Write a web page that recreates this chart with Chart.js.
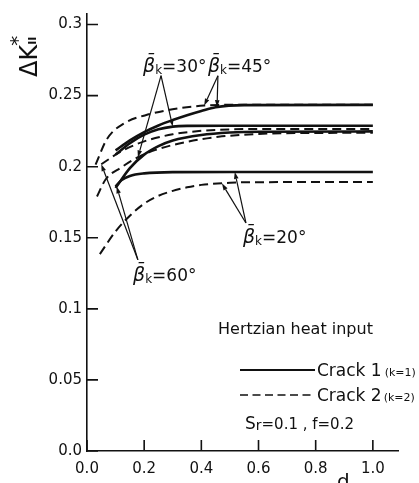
<!DOCTYPE html>
<html>
<head>
<meta charset="utf-8">
<script src="https://cdn.jsdelivr.net/npm/chart.js@4.4.1/dist/chart.umd.min.js"></script>
<style>
  html, body { margin: 0; padding: 0; background: #fff; }
</style>
</head>
<body>
<canvas id="chart" width="419" height="483"></canvas>
<script>
// ΔK*II against crack depth d, Hertzian heat input, Sr=0.1, f=0.2

const xTicks = [0, 0.2, 0.4, 0.6, 0.8, 1.0];
const xTickLabels = ['0.0', '0.2', '0.4', '0.6', '0.8', '1.0'];
const yTicks = [0, 0.05, 0.1, 0.15, 0.2, 0.25, 0.3];
const yTickLabels = ['0.0', '0.05', '0.1', '0.15', '0.2', '0.25', '0.3'];

// Crack 1 (k=1) - solid
const dS20 = [0.10, 0.12, 0.15, 0.20, 0.30, 0.50, 1.00];
const kS20 = [0.186, 0.1905, 0.1935, 0.1953, 0.1962, 0.1963, 0.1963];
const dS30 = [0.10, 0.15, 0.20, 0.25, 0.30, 0.35, 0.50, 1.00];
const kS30 = [0.2085, 0.2165, 0.2225, 0.2263, 0.2282, 0.2287, 0.2288, 0.2288];
const dS45 = [0.10, 0.15, 0.20, 0.25, 0.30, 0.35, 0.40, 0.45, 0.55, 1.00];
const kS45 = [0.2115, 0.2185, 0.2243, 0.229, 0.2328, 0.2362, 0.2392, 0.2418, 0.2433, 0.2435];
const dS60 = [0.10, 0.15, 0.20, 0.25, 0.30, 0.40, 0.50, 0.60, 1.00];
const kS60 = [0.185, 0.199, 0.2085, 0.2145, 0.2185, 0.2223, 0.2240, 0.2246, 0.2248];

// Crack 2 (k=2) - dashed
const dD20 = [0.045, 0.10, 0.15, 0.20, 0.25, 0.30, 0.35, 0.40, 0.50, 0.60, 1.00];
const kD20 = [0.1385, 0.1545, 0.1655, 0.1740, 0.1795, 0.1830, 0.1855, 0.1872, 0.1887, 0.1891, 0.1892];
const dD30 = [0.035, 0.065, 0.12, 0.18, 0.24, 0.35, 0.46, 0.60, 0.75, 1.00];
const kD30 = [0.179, 0.191, 0.1995, 0.2068, 0.2118, 0.2175, 0.2210, 0.2230, 0.2237, 0.2238];
const dD45 = [0.03, 0.07, 0.13, 0.22, 0.32, 0.41, 0.50, 1.00];
const kD45 = [0.2015, 0.2195, 0.2305, 0.2370, 0.2410, 0.2430, 0.2435, 0.2435];
const dD60 = [0.05, 0.12, 0.20, 0.30, 0.40, 0.50, 0.60, 1.00];
const kD60 = [0.2017, 0.2108, 0.2178, 0.2228, 0.2252, 0.2262, 0.2265, 0.2265];

const FONT = '"DejaVu Sans", sans-serif';
const INK = '#111';

const series = {
    s20: [dS20, kS20], s30: [dS30, kS30], s45: [dS45, kS45], s60: [dS60, kS60],
    c20: [dD20, kD20], c30: [dD30, kD30], c45: [dD45, kD45], c60: [dD60, kD60]
};

function pts(xs, ys) { return xs.map((x, i) => ({ x: x, y: ys[i] })); }

// value of a series at d (linear between read points)
function valueAt(key, d) {
    const xs = series[key][0], ys = series[key][1];
    if (d <= xs[0]) return ys[0];
    for (let i = 1; i < xs.length; i++) {
        if (d <= xs[i]) {
            const t = (d - xs[i - 1]) / (xs[i] - xs[i - 1]);
            return ys[i - 1] + t * (ys[i] - ys[i - 1]);
        }
    }
    return ys[ys.length - 1];
}

const datasets = Object.keys(series).map(key => ({
    label: key,
    data: pts(series[key][0], series[key][1]),
    borderColor: INK,
    borderWidth: key[0] === 's' ? 2.6 : 2,
    borderDash: key[0] === 's' ? [] : [9, 5],
    pointRadius: 0,
    fill: false,
    cubicInterpolationMode: 'monotone'
}));

// β̄k labels with their arrows (label / arrow origin in data units)
const betaNotes = [
    { angle: '30°', at: [0.196, 0.2668], from: [0.259, 0.264], tips: [['s30', 0.30], ['c30', 0.178]] },
    { angle: '45°', at: [0.423, 0.2668], from: [0.458, 0.264], tips: [['c45', 0.41], ['s45', 0.455]] },
    { angle: '20°', at: [0.5455, 0.1464], from: [0.556, 0.1604], tips: [['s20', 0.517], ['c20', 0.472]] },
    { angle: '60°', at: [0.161, 0.1197], from: [0.178, 0.1345], tips: [['c60', 0.05], ['s60', 0.104]] }
];

function drawRich(ctx, x, y, parts) {
    let cx = x;
    parts.forEach(p => {
        ctx.font = (p.style || 'normal') + ' ' + p.size + 'px ' + FONT;
        ctx.fillText(p.t, cx, y + (p.dy || 0));
        cx += ctx.measureText(p.t).width + (p.gap || 0);
    });
}

function arrow(ctx, x0, y0, x1, y1) {
    const a = Math.atan2(y1 - y0, x1 - x0);
    const L = 7, W = 2.3;
    ctx.beginPath();
    ctx.moveTo(x0, y0);
    ctx.lineTo(x1 - L * Math.cos(a), y1 - L * Math.sin(a));
    ctx.stroke();
    ctx.beginPath();
    ctx.moveTo(x1, y1);
    ctx.lineTo(x1 - L * Math.cos(a) + W * Math.sin(a), y1 - L * Math.sin(a) - W * Math.cos(a));
    ctx.lineTo(x1 - L * Math.cos(a) - W * Math.sin(a), y1 - L * Math.sin(a) + W * Math.cos(a));
    ctx.closePath();
    ctx.fill();
}

const decorations = {
    id: 'decorations',
    afterDraw(chart) {
        const ctx = chart.ctx;
        const xs = chart.scales.x, ys = chart.scales.y;
        const area = chart.chartArea;
        ctx.save();
        ctx.strokeStyle = INK;
        ctx.fillStyle = INK;

        // inward tick marks
        ctx.lineWidth = 1.6;
        ctx.beginPath();
        xTicks.forEach(v => {
            const px = xs.getPixelForValue(v);
            ctx.moveTo(px, area.bottom);
            ctx.lineTo(px, area.bottom - 11);
        });
        yTicks.forEach(v => {
            const py = ys.getPixelForValue(v);
            ctx.moveTo(area.left, py);
            ctx.lineTo(area.left + 11, py);
        });
        ctx.stroke();

        // β̄k annotations
        ctx.lineWidth = 1.2;
        ctx.textBaseline = 'alphabetic';
        ctx.textAlign = 'left';
        betaNotes.forEach(n => {
            const ox = xs.getPixelForValue(n.from[0]), oy = ys.getPixelForValue(n.from[1]);
            n.tips.forEach(t => {
                arrow(ctx, ox, oy, xs.getPixelForValue(t[1]), ys.getPixelForValue(valueAt(t[0], t[1])));
            });
            drawRich(ctx, xs.getPixelForValue(n.at[0]), ys.getPixelForValue(n.at[1]), [
                { t: 'β\u0304', size: 19, style: 'italic' },
                { t: 'k', size: 12, dy: 2 },
                { t: '=' + n.angle, size: 17 }
            ]);
        });

        // key
        ctx.font = '16px ' + FONT;
        ctx.textBaseline = 'middle';
        ctx.fillText('Hertzian heat input', 218, 330);

        ctx.lineWidth = 2;
        ctx.beginPath();
        ctx.moveTo(240, 370); ctx.lineTo(315, 370);
        ctx.stroke();
        ctx.setLineDash([8, 4.5]);
        ctx.lineWidth = 1.6;
        ctx.beginPath();
        ctx.moveTo(240, 395); ctx.lineTo(315, 395);
        ctx.stroke();
        ctx.setLineDash([]);

        ctx.textBaseline = 'alphabetic';
        drawRich(ctx, 317, 376, [{ t: 'Crack 1', size: 17, gap: 3 }, { t: '(k=1)', size: 11 }]);
        drawRich(ctx, 317, 401, [{ t: 'Crack 2', size: 17, gap: 2 }, { t: '(k=2)', size: 11 }]);
        drawRich(ctx, 245, 429, [
            { t: 'S', size: 17 }, { t: 'r', size: 14, dy: 1 },
            { t: '=0.1 , f=0.2', size: 15 }
        ]);

        // axis titles
        ctx.font = '20px ' + FONT;
        ctx.fillText('d', 337, 488);

        ctx.translate(37, 77);
        ctx.rotate(-Math.PI / 2);
        ctx.font = '24px ' + FONT;
        ctx.fillText('ΔK', 0, 0);
        const w = ctx.measureText('ΔK').width;
        ctx.font = '20px ' + FONT;
        ctx.fillText('*', w - 1, -13);
        ctx.font = 'bold 11px ' + FONT;
        ctx.fillText('II', w, -1);
        ctx.restore();
    }
};

new Chart(document.getElementById('chart'), {
    type: 'line',
    data: { datasets: datasets },
    plugins: [decorations],
    options: {
        responsive: false,
        animation: false,
        layout: { padding: { top: 12, right: 21, left: 0, bottom: 0 } },
        plugins: { legend: { display: false }, tooltip: { enabled: false } },
        scales: {
            x: {
                type: 'linear',
                min: 0,
                max: 1.088,
                afterFit: s => { s.height = 32; },
                afterBuildTicks: s => { s.ticks = xTicks.map(v => ({ value: v })); },
                grid: { display: false, drawTicks: false },
                border: { display: true, color: INK, width: 1.6 },
                ticks: {
                    padding: 9,
                    maxRotation: 0,
                    autoSkip: false,
                    color: INK,
                    font: { family: FONT, size: 15 },
                    callback: (v, i) => xTickLabels[i]
                }
            },
            y: {
                type: 'linear',
                min: 0,
                max: 0.3074,
                afterFit: s => { s.width = 87; },
                afterBuildTicks: s => { s.ticks = yTicks.map(v => ({ value: v })); },
                grid: { display: false, drawTicks: false },
                border: { display: true, color: INK, width: 1.6 },
                ticks: {
                    padding: 5,
                    autoSkip: false,
                    color: INK,
                    font: { family: FONT, size: 15 },
                    callback: (v, i) => yTickLabels[i]
                }
            }
        }
    }
});
</script>
</body>
</html>
